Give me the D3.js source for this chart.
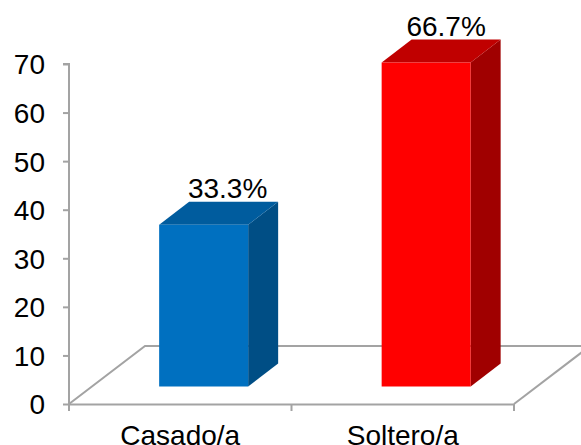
<!DOCTYPE html>
<html><head><meta charset="utf-8">
<script src="https://cdn.jsdelivr.net/npm/d3@7"></script>
<style>html,body{margin:0;padding:0;background:#fff;overflow:hidden}svg{display:block}
text{font-family:"Liberation Sans",Arial,sans-serif;fill:#000}</style></head><body>
<svg id="c" width="581" height="445"></svg>
<script>
const categories = ["Casado/a", "Soltero/a"];
const values = [33.3, 66.7];
const labels = ["33.3%", "66.7%"];
const frontColors = ["#0070C0", "#FF0000"];
const topColors = ["#005C9E", "#C00000"];
const sideColors = ["#004E85", "#A00000"];
const yTicks = [0, 10, 20, 30, 40, 50, 60, 70];

const svg = d3.select("#c");
const axisColor = "#A3A3A3";
const fs = 28;
const y = d3.scaleLinear().domain([0, 70]).range([404, 64]);
const x = d3.scaleBand().domain(categories).range([69, 514]).paddingInner(0.6).paddingOuter(0.3);
const floorDx = 76, floorDy = -58;      // floor depth
const barDx = 30, barDy = -23;          // bar depth
const shiftX = 23.4, shiftY = -17.5;    // bar position on the floor
const labelDx = [24, 20];               // label offset from bar centre

// floor
const x0 = 69, x1 = 514, y0 = y(0);
const floor = svg.append("g").attr("fill", "none").attr("stroke", axisColor).attr("stroke-width", 2);
floor.append("path").attr("d", `M${x0},${y0}L${x0 + floorDx},${y0 + floorDy}L581,${y0 + floorDy}`);
floor.append("path").attr("d", `M${x1},${y0}L${x1 + floorDx},${y0 + floorDy}`);

// axes
const gy = svg.append("g").attr("transform", `translate(${x0},0)`)
  .call(d3.axisLeft(y).tickValues(yTicks).tickSize(6).tickPadding(18).tickFormat(d3.format("d")));
const gx = svg.append("g").attr("transform", `translate(0,${y0})`)
  .call(d3.axisBottom(x).tickSize(0).tickPadding(0));
gx.selectAll(".tick line").remove();
gx.selectAll(".tick text").attr("y", 40.5).attr("dy", 0);
gy.selectAll(".tick text").attr("y", 1);
const step = x.step();
gx.selectAll("line.t").data([0, 1, 2]).enter().append("line").attr("class", "t")
  .attr("x1", i => x0 + i * step).attr("x2", i => x0 + i * step).attr("y1", 0).attr("y2", 7);
[gx, gy].forEach(g => {
  g.selectAll("path.domain,line").attr("stroke", axisColor).attr("stroke-width", 2);
  g.selectAll("text").attr("font-size", fs).attr("fill", "#000").attr("font-family", '"Liberation Sans",Arial,sans-serif');
});
gy.select("path.domain").attr("d", `M-6,${y(70)}H0V${y(0)}`);

// bars
const bars = svg.selectAll("g.bar").data(categories).enter().append("g").attr("class", "bar");
bars.each(function (c, i) {
  const g = d3.select(this);
  const bx = x(c) + shiftX, bw = x.bandwidth();
  const by = y(values[i]) + shiftY, bb = y(0) + shiftY;
  g.append("path").attr("fill", sideColors[i])
    .attr("d", `M${bx + bw},${by}L${bx + bw + barDx},${by + barDy}V${bb + barDy}L${bx + bw},${bb}Z`);
  g.append("path").attr("fill", topColors[i])
    .attr("d", `M${bx},${by}L${bx + barDx},${by + barDy}H${bx + bw + barDx}L${bx + bw},${by}Z`);
  g.append("rect").attr("fill", frontColors[i]).attr("x", bx).attr("y", by).attr("width", bw).attr("height", bb - by);
  g.append("text").attr("x", bx + bw / 2 + labelDx[i]).attr("y", by + barDy - 3.5)
    .attr("text-anchor", "middle").attr("font-size", fs).text(labels[i]);
});
</script></body></html>
